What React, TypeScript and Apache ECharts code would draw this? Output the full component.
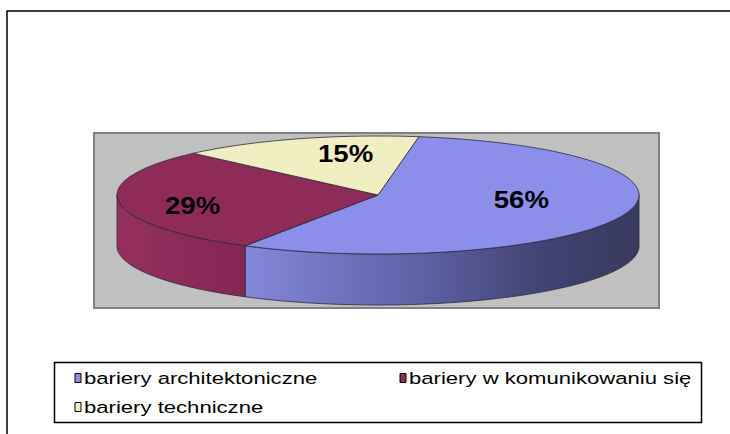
import React, { useEffect, useRef } from "react";
import * as echarts from "echarts";

// ---- data ----
const categories = ["bariery architektoniczne", "bariery w komunikowaniu się", "bariery techniczne"];
const values = [56, 29, 15];
const percentLabels = ["56%", "29%", "15%"];

// ---- styles ----
const topColors = ["#8b8fe9", "#8e2b59", "#f1efc1"];
const sideStops = [
  [[0, "#8387d9"], [0.45, "#5e61a4"], [0.75, "#414372"], [1, "#383a5e"]],
  [[0, "#93305e"], [1, "#842654"]],
  [[0, "#e0dea8"], [1, "#c8c690"]],
];
const FONT = "'Liberation Sans', Arial, sans-serif";
const TEXT_STRETCH = 1.3; // source image is horizontally stretched
const LABEL_STRETCH = 1.15;

// pie geometry (pixels)
const CX = 378, CY = 195, RX = 261, RY = 59, DEPTH = 51;
const START = 9; // degrees clockwise from 12 o'clock
const LABEL_R = 0.6;
const labelNudge = [[-4, -7], [-30, 6], [16, -8]];

// legend layout
const legendItemPos = [[75, 378], [400, 378], [75, 407]];

function pt(theta: number, dy = 0): number[] {
  const r = (theta * Math.PI) / 180;
  return [CX + RX * Math.sin(r), CY - RY * Math.cos(r) + dy];
}
function arcPts(a0: number, a1: number, dy = 0): number[][] {
  const n = Math.max(2, Math.ceil(Math.abs(a1 - a0) / 1.5));
  const out: number[][] = [];
  for (let k = 0; k <= n; k++) out.push(pt(a0 + ((a1 - a0) * k) / n, dy));
  return out;
}
function toPath(pts: number[][]): string {
  return pts.map((p, i) => (i ? "L" : "M") + p[0].toFixed(2) + " " + p[1].toFixed(2)).join(" ") + " Z";
}

function makeRender(idx: number) {
  return (_params: any, api: any) => {
    const total = values.reduce((a, b) => a + b, 0);
    const before = values.slice(0, idx).reduce((a, b) => a + b, 0);
    const v = api.value(0);
    const a0 = START + (360 * before) / total;
    const a1 = a0 + (360 * v) / total;
    const children: any[] = [];
    // front-facing side wall
    const ranges = [[90, 270], [450, 630]];
    ranges.forEach(([r0, r1]) => {
      const b0 = Math.max(a0, r0), b1 = Math.min(a1, r1);
      if (b1 > b0) {
        const pts = arcPts(b0, b1).concat(arcPts(b1, b0, DEPTH));
        children.push({
          type: "path",
          shape: { pathData: toPath(pts) },
          style: {
            fill: new echarts.graphic.LinearGradient(0, 0, 1, 0,
              sideStops[idx].map(([o, c]) => ({ offset: o as number, color: c as string }))),
            stroke: "#2a2a3a",
            lineWidth: 0.8,
          },
        });
      }
    });
    // top face
    const top = [[CX, CY]].concat(arcPts(a0, a1));
    children.push({
      type: "path",
      shape: { pathData: toPath(top) },
      style: { fill: topColors[idx], stroke: "#2a2a3a", lineWidth: 0.8 },
    });
    const mid = (a0 + a1) / 2;
    const lp = pt(mid);
    children.push({
      type: "text",
      x: CX + (lp[0] - CX) * LABEL_R + labelNudge[idx][0],
      y: CY + (lp[1] - CY) * LABEL_R + labelNudge[idx][1],
      scaleX: LABEL_STRETCH,
      style: {
        text: percentLabels[idx],
        x: 0,
        y: 0,
        fill: "#000",
        fontSize: 24,
        fontWeight: "bold",
        fontFamily: FONT,
        align: "center",
        verticalAlign: "middle",
      },
    });
    return { type: "group", children };
  };
}

export default function App() {
  const ref = useRef<HTMLDivElement>(null);
  useEffect(() => {
    if (!ref.current) return;
    const chart = echarts.init(ref.current, null, { renderer: "svg" });
    const legendGraphics: any[] = [];
    categories.forEach((c, i) => {
      const [lx, ly] = legendItemPos[i];
      legendGraphics.push({
        type: "rect",
        shape: { x: lx, y: ly - 4.5, width: 6, height: 9 },
        style: { fill: topColors[i], stroke: "#000", lineWidth: 1 },
        z: 5,
        silent: true,
      });
      legendGraphics.push({
        type: "text",
        x: lx + 9,
        y: ly,
        scaleX: TEXT_STRETCH,
        style: {
          text: c,
          x: 0,
          y: 0,
          fill: "#000",
          fontSize: 17,
          fontFamily: FONT,
          align: "left",
          verticalAlign: "middle",
        },
        z: 5,
        silent: true,
      });
    });
    chart.setOption({
      animation: false,
      backgroundColor: "#ffffff",
      graphic: [
        {
          type: "polyline",
          shape: { points: [[7, 434], [7, 11], [730, 11]] },
          style: { stroke: "#000", lineWidth: 1.5, fill: null },
          silent: true,
        },
        {
          type: "rect",
          shape: { x: 94, y: 133, width: 565, height: 175 },
          style: { fill: "#c0c0c0", stroke: "#808080", lineWidth: 2 },
          silent: true,
        },
        {
          type: "rect",
          shape: { x: 54.5, y: 362.5, width: 647, height: 60 },
          style: { fill: "#fff", stroke: "#000", lineWidth: 1.5 },
          silent: true,
        },
        ...legendGraphics,
      ],
      series: categories.map((c, i) => ({
        type: "custom",
        name: c,
        coordinateSystem: "none",
        itemStyle: { color: topColors[i] },
        data: [values[i]],
        renderItem: makeRender(i),
      })),
    });
    return () => chart.dispose();
  }, []);
  return (
    <div
      ref={ref}
      style={{ position: "absolute", left: 0, top: 0, width: 730, height: 434 }}
    />
  );
}
